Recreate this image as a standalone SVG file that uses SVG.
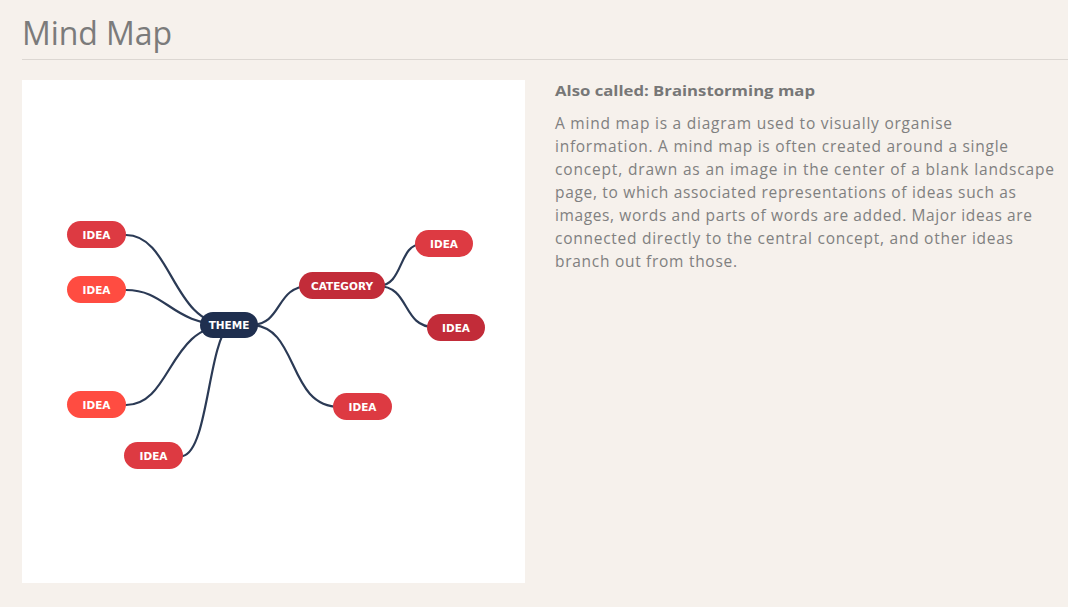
<svg xmlns="http://www.w3.org/2000/svg" width="1068" height="607" viewBox="0 0 1068 607">
<style>
.bg{fill:#f6f1ec}
.panel{fill:#ffffff}
.title{font-family:"Open Sans","Liberation Sans",sans-serif;font-size:32px;fill:#7b7b7b}
.sub{font-family:"Open Sans","Liberation Sans",sans-serif;font-size:15px;font-weight:700;fill:#777777}
.body{font-family:"Open Sans","Liberation Sans",sans-serif;font-size:15.5px;fill:#808080}
.lbl{font-family:"DejaVu Sans","Liberation Sans",sans-serif;font-size:10.5px;font-weight:700;fill:#ffffff;text-anchor:middle}
.edge{fill:none;stroke:#2b3a55;stroke-width:2.2;stroke-linecap:round}
.red{fill:#dd3a42}
.bright{fill:#ff4c41}
.dark{fill:#c22c39}
.navy{fill:#1f2f4f}
</style>
<rect class="bg" x="0" y="0" width="1068" height="607"/>
<text class="title" x="22" y="45" textLength="150" lengthAdjust="spacing">Mind Map</text>
<line x1="22" y1="59.5" x2="1068" y2="59.5" stroke="#dcd7d2" stroke-width="1"/>
<rect class="panel" x="22" y="80" width="503" height="503"/>

<g id="connectors">
<path class="edge" d="M126,235 C172,235 172,325 229,325"/>
<path class="edge" d="M126,290 C168,290 170,325 229,325"/>
<path class="edge" d="M126,405 C172,405 168,325 229,325"/>
<path class="edge" d="M183,456 C208,450 208,345 229,325"/>
<path class="edge" d="M250,325 C284,325 274,286 310,286"/>
<path class="edge" d="M250,325 C300,325 286,407 340,407"/>
<path class="edge" d="M378,286 C404,286 398,244 422,244"/>
<path class="edge" d="M378,286 C410,286 402,327 434,327"/>
</g>

<g id="idea1"><rect class="red" x="67" y="221" width="59" height="27" rx="13.5"/><text class="lbl" x="96.5" y="238.5">IDEA</text></g>
<g id="idea2"><rect class="bright" x="67" y="276" width="59" height="27" rx="13.5"/><text class="lbl" x="96.5" y="293.5">IDEA</text></g>
<g id="idea3"><rect class="bright" x="67" y="391" width="59" height="27" rx="13.5"/><text class="lbl" x="96.5" y="408.5">IDEA</text></g>
<g id="idea4"><rect class="red" x="124" y="442" width="59" height="27" rx="13.5"/><text class="lbl" x="153.5" y="459.5">IDEA</text></g>
<g id="theme"><rect class="navy" x="200" y="312" width="58" height="26" rx="13"/><text class="lbl" x="229" y="329">THEME</text></g>
<g id="category"><rect class="dark" x="299" y="272" width="86" height="27" rx="13.5"/><text class="lbl" x="342" y="289.5">CATEGORY</text></g>
<g id="idea5"><rect class="red" x="415" y="230" width="58" height="27" rx="13.5"/><text class="lbl" x="444" y="247.5">IDEA</text></g>
<g id="idea6"><rect class="dark" x="427" y="314" width="58" height="27" rx="13.5"/><text class="lbl" x="456" y="331.5">IDEA</text></g>
<g id="idea7"><rect class="red" x="333" y="393" width="59" height="27" rx="13.5"/><text class="lbl" x="362.5" y="410.5">IDEA</text></g>

<text class="sub" x="555" y="96" textLength="260" lengthAdjust="spacingAndGlyphs">Also called: Brainstorming map</text>
<text class="body" x="555" y="129" textLength="397" lengthAdjust="spacing">A mind map is a diagram used to visually organise</text>
<text class="body" x="555" y="152" textLength="453" lengthAdjust="spacing">information. A mind map is often created around a single</text>
<text class="body" x="555" y="175" textLength="499" lengthAdjust="spacing">concept, drawn as an image in the center of a blank landscape</text>
<text class="body" x="555" y="198" textLength="461" lengthAdjust="spacing">page, to which associated representations of ideas such as</text>
<text class="body" x="555" y="221" textLength="477" lengthAdjust="spacing">images, words and parts of words are added. Major ideas are</text>
<text class="body" x="555" y="244" textLength="458" lengthAdjust="spacing">connected directly to the central concept, and other ideas</text>
<text class="body" x="555" y="267" textLength="182" lengthAdjust="spacing">branch out from those.</text>
</svg>
